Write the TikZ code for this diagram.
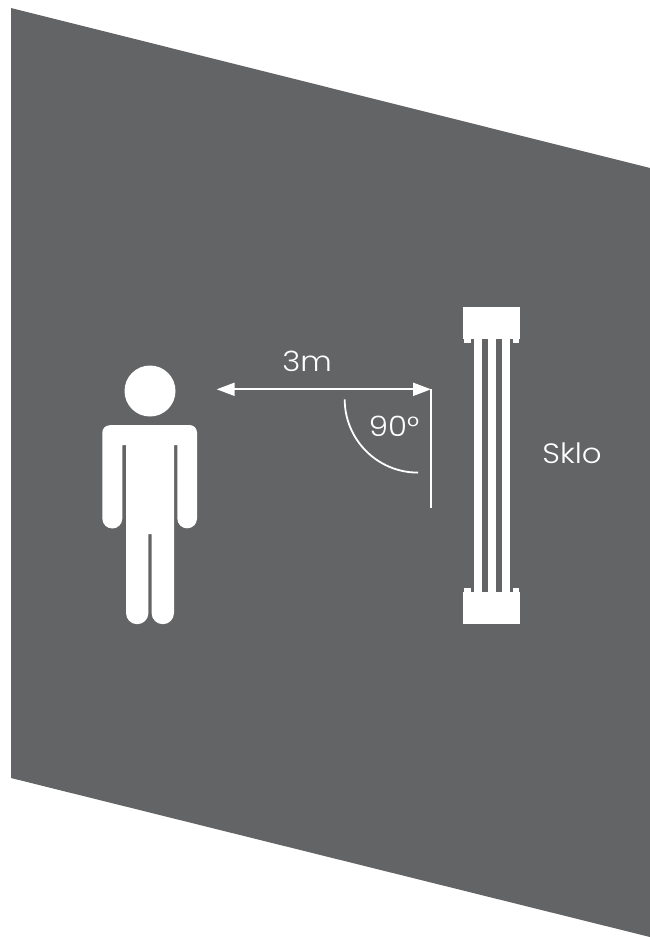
\documentclass[tikz,border=0pt]{standalone}
\usepackage{fontspec}
\setmainfont[FakeStretch=1.1]{Poppins Light}
\definecolor{wall}{HTML}{636466}
\usetikzlibrary{arrows.meta}
\tikzset{
  wallshape/.style={fill=wall,draw=none},
  solid white/.style={fill=white,draw=none},
  thinline/.style={draw=white,line width=1.8pt},
  label/.style={text=white,font=\fontsize{28}{32}\selectfont,inner sep=0pt,anchor=center},
  dimarrow/.style={draw=white,line width=2pt,{Triangle[length=18pt,width=13pt]}-{Triangle[length=18pt,width=13pt]}}
}
\begin{document}
\begin{tikzpicture}[x=1pt,y=-1pt]
\useasboundingbox (0,0) rectangle (650,937);
\path[wallshape] (11,8) -- (650,168) -- (650,937) -- (11,778) -- cycle;
% person
\path[solid white] (150,391) circle[radius=25.5];
\path[solid white] (109.5,425) -- (189.5,425) arc[start angle=-90,end angle=0,radius=7.5] -- (197,518.5)
  arc[start angle=0,end angle=180,radius=9.85] -- (177.3,445) -- (174,445) -- (174,613)
  arc[start angle=0,end angle=180,radius=11.2] -- (151.6,534) -- (148.4,534) -- (148.4,613)
  arc[start angle=0,end angle=180,radius=11.2] -- (126,445) -- (122.3,445) -- (122.3,518.5)
  arc[start angle=0,end angle=180,radius=10] -- (102.3,432.5) arc[start angle=180,end angle=270,radius=7.2] -- cycle;
% radiator
\path[solid white] (463,307) rectangle (520,338.7);
\path[solid white] (463.7,338) rectangle (471,342.7);
\path[solid white] (512.7,338) rectangle (519.3,342.7);
\path[solid white] (463,592) rectangle (520,623.7);
\path[solid white] (463.7,588) rectangle (471,593);
\path[solid white] (512.7,588) rectangle (519.3,593);
\path[solid white] (474,338) rectangle (482,593);
\path[solid white] (487.7,338) rectangle (496,593);
\path[solid white] (502,338) rectangle (510.3,593);
% dimensions
\coordinate (arrowL) at (216.7,389.3);
\coordinate (corner) at (431,389.3);
\coordinate (lineEnd) at (431,508);
\coordinate (arcA) at (344.7,399.3);
\coordinate (arcB) at (418,472.7);
\draw[dimarrow] (arrowL) -- (corner);
\draw[thinline] (corner) -- (lineEnd);
\draw[thinline] (arcA) arc[start angle=180,end angle=90,radius=73.3];
\node[label] (dist) at (307,361) {3m};
\node[label] (angle) at (394,426) {90°};
\node[label] (glass) at (572,453) {Sklo};
\end{tikzpicture}
\end{document}
